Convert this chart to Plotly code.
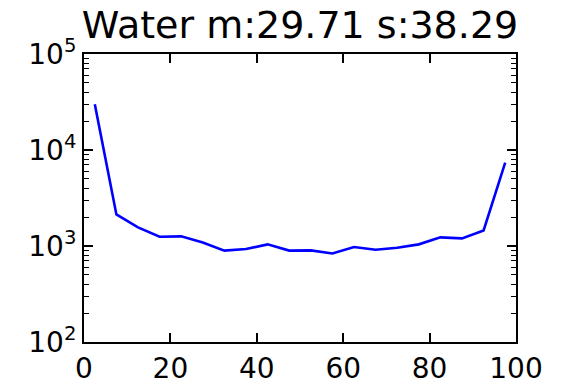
import plotly.graph_objects as go

# Histogram bin centres (percent) and counts per bin
bin_centers = [2.5, 7.5, 12.5, 17.5, 22.5, 27.5, 32.5, 37.5, 42.5, 47.5,
               52.5, 57.5, 62.5, 67.5, 72.5, 77.5, 82.5, 87.5, 92.5, 97.5]
counts = [30000, 2130, 1560, 1250, 1260, 1090, 895, 930, 1040, 895,
          900, 835, 975, 915, 960, 1040, 1230, 1200, 1450, 7400]

title_text = "Water m:29.71 s:38.29"
x_ticks = [0, 20, 40, 60, 80, 100]
y_tick_vals = [100, 1000, 10000, 100000]
y_tick_text = ["10<sup>2</sup>", "10<sup>3</sup>", "10<sup>4</sup>", "10<sup>5</sup>"]

fig = go.Figure(
    go.Scatter(
        x=bin_centers, y=counts, mode="lines",
        line=dict(color="#0000ff", width=2.6),
        showlegend=False,
    )
)

font = "DejaVu Sans, Bitstream Vera Sans, sans-serif"
axis_common = dict(
    showline=True, linecolor="black", linewidth=2, mirror="ticks",
    ticks="inside", tickcolor="black", tickwidth=1.5,
    showgrid=False, zeroline=False, automargin=False,
    tickfont=dict(family=font, size=28, color="black"),
)

fig.update_xaxes(
    range=[0, 100], tickvals=x_ticks, ticklen=9, **axis_common
)
fig.update_yaxes(
    type="log", range=[2, 5], tickvals=y_tick_vals, ticktext=y_tick_text,
    ticklen=9,
    minor=dict(ticks="inside", ticklen=5, tickcolor="black", tickwidth=1.2,
               dtick="D1", showgrid=False),
    **axis_common
)

fig.update_layout(
    width=561, height=384,
    margin=dict(l=84, r=45, t=54, b=42),
    paper_bgcolor="white", plot_bgcolor="white",
    title=dict(text=title_text, x=300 / 561, xanchor="center",
               y=1 - 25 / 384, yanchor="middle", yref="container",
               font=dict(family=font, size=38, color="black")),
)

fig.write_html("out.html")
